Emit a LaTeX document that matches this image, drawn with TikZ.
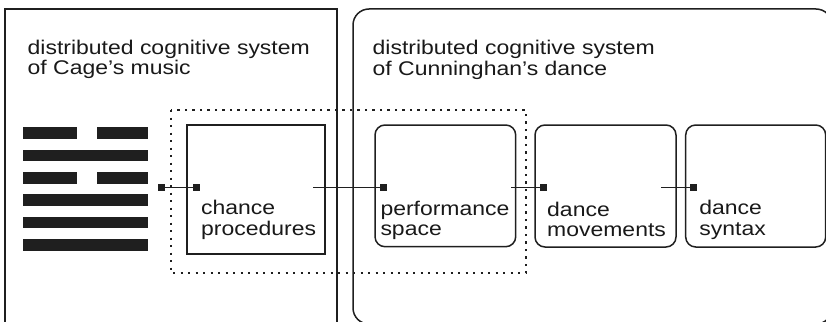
\documentclass[tikz,border=0pt]{standalone}
\usepackage{fontspec}
\setmainfont{Liberation Sans}[FakeStretch=1.16]
\begin{document}
\begin{tikzpicture}[x=1pt,y=-1pt,
  ink/.style={draw=black!88},
  system/.style={ink, line width=1.5pt, fill=none},
  stage/.style={ink, line width=1.5pt, inner sep=0pt, minimum width=#1},
  label/.style={anchor=base west, inner sep=0pt, align=left, text=black!90,
    font=\fontsize{19.8}{20.3}\selectfont},
  port/.style={fill=black!88, inner sep=0pt, minimum size=6.5pt},
  link/.style={draw=black!88, line width=1.2pt},
  bar/.style={fill=black!88},
  grouping/.style={draw=black!88, line width=2.4pt, dash pattern=on 2.4pt off 5.1pt}
]
\useasboundingbox (0,0) rectangle (826,321);
\clip (0,0) rectangle (826,321);

% the two distributed cognitive systems
\draw[system] (5,9) rectangle (337,340);
\draw[system, rounded corners=16pt] (353,9) rectangle (832,324);
% a label's base anchor sits on the baseline of its last line
\node[label] (musictitle) at (27.5,74.3) {distributed cognitive system\\of Cage’s music};
\node[label] (dancetitle) at (372.5,75) {distributed cognitive system\\of Cunninghan’s dance};

% I Ching hexagram
\foreach \k/\broken in {0/1,1/0,2/1,3/0,4/0,5/0} {
  \pgfmathsetmacro\ytop{127.3+22.35*\k}
  \ifnum\broken=1
    \fill[bar] (22.7,\ytop) rectangle (76.7,\ytop+11.5);
    \fill[bar] (96.7,\ytop) rectangle (148,\ytop+11.5);
  \else
    \fill[bar] (22.7,\ytop) rectangle (148,\ytop+11.5);
  \fi
}

% stages
\node[stage=138pt, minimum height=129pt] (chance) at (256,189.5) {};
\node[stage=140.7pt, minimum height=121.7pt, rounded corners=10pt] (space) at (445.35,185.85) {};
\node[stage=141pt, minimum height=122pt, rounded corners=10pt] (movements) at (605.5,186) {};
\node[stage=140pt, minimum height=122pt, rounded corners=10pt] (syntax) at (755.7,186) {};

\node[label] (chancetext) at (201,235) {chance\\procedures};
\node[label] (spacetext) at (380.3,235.5) {performance\\space};
\node[label] (movementstext) at (547,236.7) {dance\\movements};
\node[label] (syntaxtext) at (699.2,235) {dance\\syntax};

% shared part of both systems
\draw[grouping] (171,110) rectangle (526,273);

% connectors
\node[port] (p1) at (161.3,187.3) {};
\node[port] (p2) at (196.7,187.3) {};
\node[port] (p3) at (383.3,187.3) {};
\node[port] (p4) at (543.3,187.3) {};
\node[port] (p5) at (693.3,187.3) {};
\coordinate (o2) at (313,187.3);
\coordinate (o3) at (511,187.3);
\coordinate (o4) at (661,187.3);
\draw[link] (p1) -- (p2);
\draw[link] (o2) -- (p3);
\draw[link] (o3) -- (p4);
\draw[link] (o4) -- (p5);
\end{tikzpicture}
\end{document}
